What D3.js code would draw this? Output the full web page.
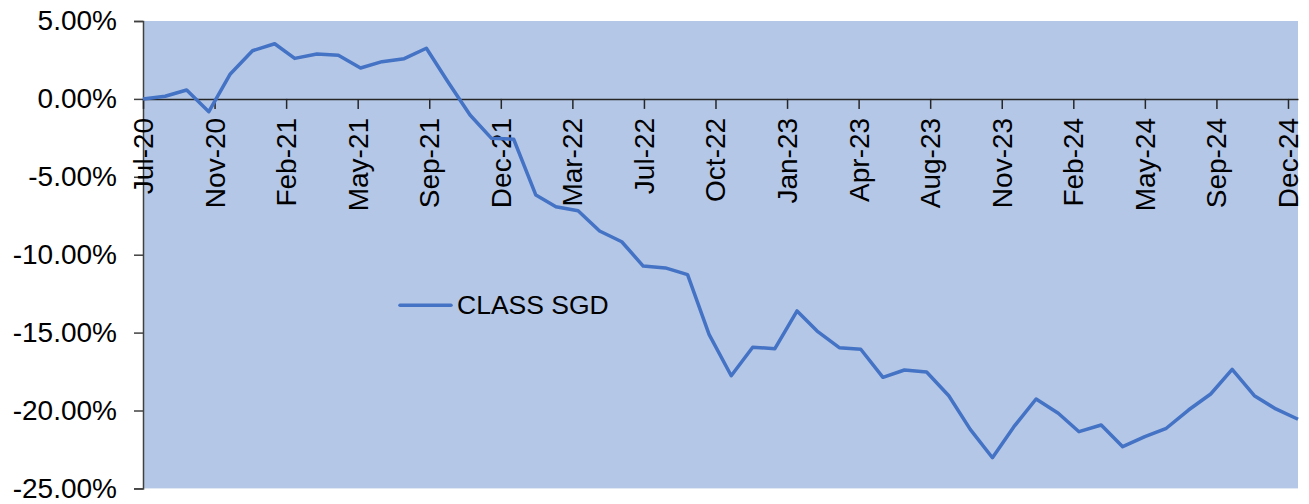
<!DOCTYPE html>
<html>
<head>
<meta charset="utf-8">
<script src="https://cdn.jsdelivr.net/npm/d3@7"></script>
<style>
  html, body { margin: 0; padding: 0; background: #ffffff; }
  svg { display: block; }
  text { font-family: "Liberation Sans", Arial, sans-serif; fill: #000; }
</style>
</head>
<body>
<svg id="chart" width="1309" height="504"></svg>
<script>
// ---- data ----
const seriesName = "CLASS SGD";
const dates = [
  "2020-07-31","2020-08-31","2020-09-30","2020-10-31","2020-11-30","2020-12-31",
  "2021-01-31","2021-02-28","2021-03-31","2021-04-30","2021-05-31","2021-06-30",
  "2021-07-31","2021-08-31","2021-09-30","2021-10-31","2021-11-30","2021-12-31",
  "2022-01-31","2022-02-28","2022-03-31","2022-04-30","2022-05-31","2022-06-30",
  "2022-07-31","2022-08-31","2022-09-30","2022-10-31","2022-11-30","2022-12-31",
  "2023-01-31","2023-02-28","2023-03-31","2023-04-30","2023-05-31","2023-06-30",
  "2023-07-31","2023-08-31","2023-09-30","2023-10-31","2023-11-30","2023-12-31",
  "2024-01-31","2024-02-29","2024-03-31","2024-04-30","2024-05-31","2024-06-30",
  "2024-07-31","2024-08-31","2024-09-30","2024-10-31","2024-11-30","2024-12-31"
];
const values = [
  0.00, 0.17, 0.57, -0.82, 1.60, 3.09,
  3.54, 2.60, 2.88, 2.80, 1.98, 2.39,
  2.58, 3.25, 1.10, -1.03, -2.53, -2.59,
  -6.17, -6.92, -7.18, -8.48, -9.17, -10.73,
  -10.85, -11.28, -15.11, -17.77, -15.94, -16.03,
  -13.61, -14.90, -15.97, -16.07, -17.87, -17.40,
  -17.53, -19.05, -21.21, -23.03, -21.04, -19.26,
  -20.18, -21.36, -20.93, -22.32, -21.68, -21.14,
  -19.97, -18.94, -17.36, -19.05, -19.90, -20.56
];
const xTickDates = [
  "2020-07-31","2020-11-08","2021-02-16","2021-05-27","2021-09-04","2021-12-13",
  "2022-03-23","2022-07-01","2022-10-09","2023-01-17","2023-04-27","2023-08-05",
  "2023-11-13","2024-02-21","2024-05-31","2024-09-08","2024-12-17"
];
const xTickLabels = [
  "Jul-20","Nov-20","Feb-21","May-21","Sep-21","Dec-21",
  "Mar-22","Jul-22","Oct-22","Jan-23","Apr-23","Aug-23",
  "Nov-23","Feb-24","May-24","Sep-24","Dec-24"
];
const yTicks = [5, 0, -5, -10, -15, -20, -25];

// ---- layout ----
const svg = d3.select("#chart");
const plotLeft = 143, plotRight = 1298, plotTop = 21, plotBottom = 488.4;
const parse = d3.utcParse("%Y-%m-%d");
const data = dates.map((d, i) => ({ date: parse(d), value: values[i] }));

const x = d3.scaleUtc()
  .domain([parse(dates[0]), parse(dates[dates.length - 1])])
  .range([plotLeft, plotRight]);
const y = d3.scaleLinear().domain([-25, 5]).range([plotBottom, plotTop]);

// plot background
svg.append("rect")
  .attr("x", plotLeft).attr("y", plotTop)
  .attr("width", plotRight - plotLeft).attr("height", plotBottom - plotTop)
  .attr("fill", "#B4C7E7");

// y axis
const yAxis = d3.axisLeft(y)
  .tickValues(yTicks)
  .tickSize(9)
  .tickPadding(17)
  .tickFormat(d => d.toFixed(2) + "%");
const gy = svg.append("g").attr("transform", `translate(${plotLeft},0)`).call(yAxis);
gy.select(".domain").attr("stroke", "#404040").attr("stroke-width", 1.5);
gy.selectAll(".tick line").attr("stroke", "#404040").attr("stroke-width", 1.5);
gy.selectAll(".tick text")
  .style("font-family", '"Liberation Sans", Arial, sans-serif')
  .style("font-size", "28px")
  .attr("fill", "#000");

// x axis at zero
const tickDateObjs = xTickDates.map(parse);
const xAxis = d3.axisBottom(x)
  .tickValues(tickDateObjs)
  .tickSize(10)
  .tickSizeOuter(0)
  .tickFormat((d, i) => xTickLabels[i]);
const gx = svg.append("g").attr("transform", `translate(0,${y(0)})`).call(xAxis);
gx.select(".domain").attr("stroke", "#262626").attr("stroke-width", 1.5);
gx.selectAll(".tick line").attr("stroke", "#262626").attr("stroke-width", 1.5);
gx.selectAll(".tick text")
  .style("font-family", '"Liberation Sans", Arial, sans-serif')
  .style("font-size", "28px")
  .attr("fill", "#000")
  .attr("text-anchor", "end")
  .attr("dy", null)
  .attr("y", 0)
  .attr("dominant-baseline", "central")
  .attr("transform", "translate(0,19) rotate(-90)");

// line
const line = d3.line().x(d => x(d.date)).y(d => y(d.value));
svg.append("path")
  .datum(data)
  .attr("d", line)
  .attr("fill", "none")
  .attr("stroke", "#4472C4")
  .attr("stroke-width", 3.5)
  .attr("stroke-linejoin", "round");

// legend
const lg = svg.append("g").attr("transform", "translate(400,305.3)");
lg.append("line").attr("x1", 0).attr("x2", 51).attr("y1", 0).attr("y2", 0)
  .attr("stroke", "#4472C4").attr("stroke-width", 3.5).attr("stroke-linecap", "round");
lg.append("text").attr("x", 57).attr("y", 9)
  .style("font-size", "26.5px")
  .text(seriesName);
</script>
</body>
</html>
